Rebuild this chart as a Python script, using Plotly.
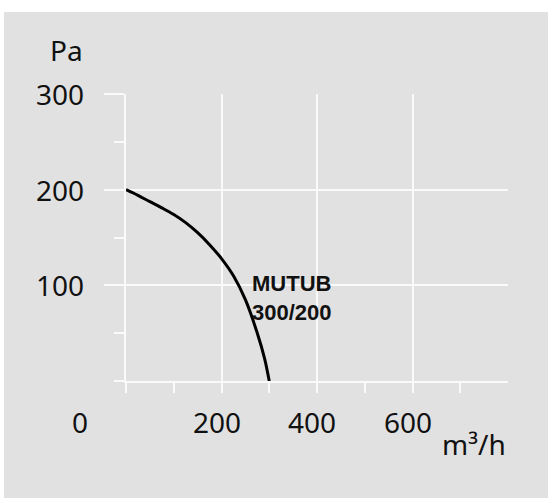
import plotly.graph_objects as go

# Fan curve data
flow = [0, 25, 50, 75, 100, 125, 150, 175, 200, 225, 250, 275, 290, 300]           # m³/h
pressure = [200, 194, 187.5, 181, 174, 165.5, 155, 142.5, 128, 110, 85, 50, 24, 0]  # Pa

x_major = [0, 200, 400, 600]
x_minor = [100, 300, 500, 700]
y_major = [100, 200, 300]
y_minor = [0, 50, 150, 250]

x_labels = ["200", "400", "600"]
x_label_vals = [200, 400, 600]
y_labels = ["100", "200", "300"]
y_label_vals = [100, 200, 300]

curve_label = "<b>MUTUB</b><br><b>300/200</b>"
x_unit = "m³/h"
y_unit = "Pa"

BG = "#e1e1e1"
GRID = "#fafafa"
TICKFONT = dict(family="Noto Sans", size=28, color="#111111")

fig = go.Figure()
fig.add_trace(go.Scatter(
    x=flow, y=pressure, mode="lines",
    line=dict(color="#000000", width=3, shape="spline", smoothing=1.0),
    hoverinfo="skip", showlegend=False,
))

W, H = 548, 498
L, R, T, B = 126, 40, 94, 117
pw, ph = W - L - R, H - T - B

def px_to_paper_x(px):
    return (px - L) / pw

def px_to_paper_y(py):
    return (H - B - py) / ph

annotations = []
for v, t in zip(y_label_vals, y_labels):
    annotations.append(dict(x=0, y=v, xref="x", yref="y", text=t, showarrow=False,
                            xanchor="right", yanchor="middle", xshift=-40, font=TICKFONT))
for v, t in zip(x_label_vals, x_labels):
    annotations.append(dict(x=v, y=0, xref="x", yref="y", text=t, showarrow=False,
                            xanchor="center", yanchor="middle", xshift=-5, yshift=-41,
                            font=TICKFONT))
annotations.append(dict(x=0, y=0, xref="x", yref="y", text="0", showarrow=False,
                        xanchor="center", yanchor="middle", xshift=-46, yshift=-41,
                        font=TICKFONT))
annotations.append(dict(x=800, y=0, xref="x", yref="y", text=x_unit, showarrow=False,
                        xanchor="right", yanchor="middle", yshift=-63, font=TICKFONT))
annotations.append(dict(x=px_to_paper_x(66), y=px_to_paper_y(50), xref="paper", yref="paper",
                        text=y_unit, showarrow=False, xanchor="center", yanchor="middle",
                        font=TICKFONT))
annotations.append(dict(x=347, y=87, xref="x", yref="y", text=curve_label, showarrow=False,
                        xanchor="center", yanchor="middle",
                        font=dict(family="Liberation Sans", size=22, color="#111111")))

shapes = [
    # white strips at top and left edge of the picture
    dict(type="rect", xref="paper", yref="paper",
         x0=px_to_paper_x(0), x1=px_to_paper_x(W), y0=px_to_paper_y(0), y1=px_to_paper_y(12),
         fillcolor="white", line=dict(width=0), layer="above"),
    dict(type="rect", xref="paper", yref="paper",
         x0=px_to_paper_x(0), x1=px_to_paper_x(4), y0=px_to_paper_y(0), y1=px_to_paper_y(H),
         fillcolor="white", line=dict(width=0), layer="above"),
]

fig.update_layout(
    width=W, height=H,
    margin=dict(l=L, r=R, t=T, b=B, pad=0),
    paper_bgcolor=BG, plot_bgcolor=BG,
    annotations=annotations, shapes=shapes,
    xaxis=dict(range=[0, 800], tickvals=x_major, showticklabels=False,
               ticks="outside", ticklen=10, tickwidth=1.5, tickcolor=GRID,
               showgrid=True, gridcolor=GRID, gridwidth=1.5,
               zeroline=False, showline=True, linecolor=GRID, linewidth=1.5,
               minor=dict(tickvals=x_minor, ticks="outside", ticklen=10, tickwidth=1.5,
                          tickcolor=GRID, showgrid=False),
               fixedrange=True),
    yaxis=dict(range=[0, 300], tickvals=y_major, showticklabels=False,
               ticks="outside", ticklen=20, tickwidth=1.5, tickcolor=GRID,
               showgrid=True, gridcolor=GRID, gridwidth=1.5,
               zeroline=False, showline=True, linecolor=GRID, linewidth=1.5,
               minor=dict(tickvals=y_minor, ticks="outside", ticklen=10, tickwidth=1.5,
                          tickcolor=GRID, showgrid=False),
               fixedrange=True),
)

fig.write_html("out.html", config={"displayModeBar": False},
               post_script="document.body.style.margin='0';document.body.style.padding='0';")
